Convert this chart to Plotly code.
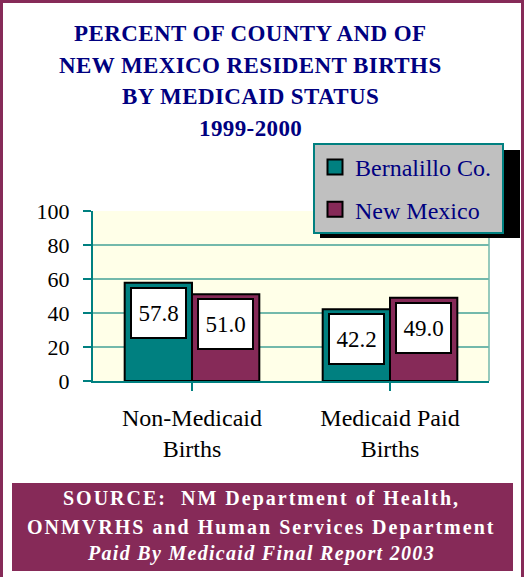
import plotly.graph_objects as go

categories = ["Non-Medicaid<br>Births", "Medicaid Paid<br>Births"]
series_names = ["Bernalillo Co.", "New Mexico"]
bernalillo = [57.8, 42.2]
new_mexico = [51.0, 49.0]
y_ticks = [0, 20, 40, 60, 80, 100]
title_lines = ["PERCENT OF COUNTY AND OF", "NEW MEXICO RESIDENT BIRTHS", "BY MEDICAID STATUS", "1999-2000"]
source_lines = ["SOURCE:  NM Department of Health,", "ONMVRHS and Human Services Department", "<i>Paid By Medicaid Final Report 2003</i>"]

TEAL = "#008080"
MAROON = "#862A58"
GRID = "#73B9AB"
NAVY = "#000080"
FONT = "Liberation Serif, Times New Roman, DejaVu Serif, serif"

W, H = 524, 577
L, R, T, B = 93, 489, 211, 381  # plot area pixel box


def px(x):
    return (x - L) / (R - L)


def py(y):
    return (B - y) / (B - T)


fig = go.Figure()
colors = [TEAL, MAROON]
for name, vals, col in zip(series_names, [bernalillo, new_mexico], colors):
    fig.add_trace(go.Bar(
        x=list(range(len(categories))), y=vals, name=name,
        marker=dict(color=col, line=dict(color="black", width=2)),
        showlegend=False, legendgroup=name,
    ))
    fig.add_trace(go.Scatter(
        x=[None], y=[None], mode="markers", name=name + "\u00a0", legendgroup=name,
        marker=dict(symbol="square", size=15, color=col, line=dict(color="black", width=2)),
    ))

# value label boxes
bargap = 0.32
bw = (1 - bargap) / 2
for si, vals in enumerate([bernalillo, new_mexico]):
    off = -bw / 2 if si == 0 else bw / 2
    for ci, v in enumerate(vals):
        fig.add_annotation(
            x=ci + off, y=v, xref="x", yref="y", text=f"{v:.1f}",
            showarrow=False, yanchor="top", yshift=-4,
            width=51, height=46, bgcolor="white", bordercolor="black",
            borderwidth=2, borderpad=1,
            font=dict(family=FONT, size=23, color="black"),
        )

# title
for i, (line, yy) in enumerate(zip(title_lines, [33, 65, 97, 128])):
    fig.add_annotation(
        x=px(250), y=py(yy), xref="paper", yref="paper",
        text=f'<b><span style="letter-spacing:0.4px">{line}</span></b>',
        showarrow=False, xanchor="center", yanchor="middle",
        font=dict(family=FONT, size=23, color=NAVY),
    )

# legend shadow
fig.add_shape(type="rect", xref="paper", yref="paper",
              x0=px(320), x1=px(520), y0=py(150), y1=py(238),
              fillcolor="black", line=dict(width=0), layer="above")

# right border of plot area
fig.add_shape(type="line", xref="paper", yref="paper", x0=1, x1=1, y0=0, y1=1,
              line=dict(color=GRID, width=1.5), layer="below")

# source box
fig.add_shape(type="rect", xref="paper", yref="paper",
              x0=px(12), x1=px(513), y0=py(483), y1=py(571),
              fillcolor=MAROON, line=dict(width=0), layer="above")
for line, yy, ls in zip(source_lines, [498, 527, 553], [2, 2, 1.3]):
    fig.add_annotation(
        x=px(261), y=py(yy), xref="paper", yref="paper",
        text=f'<b><span style="letter-spacing:{ls}px">{line}</span></b>',
        showarrow=False, xanchor="center", yanchor="middle",
        font=dict(family=FONT, size=20, color="white"),
    )

# outer frame
fig.add_shape(type="rect", xref="paper", yref="paper",
              x0=px(1.5), x1=px(522.5), y0=py(1.5), y1=py(600),
              line=dict(color=MAROON, width=3), fillcolor="rgba(0,0,0,0)", layer="above")

fig.update_layout(
    width=W, height=H,
    margin=dict(l=L, r=W - R, t=T, b=H - B, pad=0),
    paper_bgcolor="white", plot_bgcolor="#FFFFE8",
    barmode="group", bargap=bargap, bargroupgap=0,
    font=dict(family=FONT, size=22, color="black"),
    showlegend=True,
    legend=dict(
        x=px(313), y=py(143), xanchor="left", yanchor="top",
        bgcolor="#C0C0C0", bordercolor=TEAL, borderwidth=2,
        font=dict(family=FONT, size=24, color=NAVY),
        tracegroupgap=8, traceorder="grouped", itemsizing="trace",
    ),
    xaxis=dict(
        tickmode="array", tickvals=list(range(len(categories))), ticktext=categories,
        range=[-0.5, len(categories) - 0.5],
        showline=True, linecolor=TEAL, linewidth=2,
        ticks="outside", tickson="boundaries", ticklen=8, tickcolor=TEAL, tickwidth=2,
        showgrid=False, zeroline=False, ticklabelstandoff=6,
        tickfont=dict(family=FONT, size=24, color="black"),
    ),
    yaxis=dict(
        range=[0, 100], tickvals=y_ticks, showline=True, linecolor=TEAL, linewidth=2,
        ticks="outside", ticklen=8, tickcolor=TEAL, tickwidth=2,
        showgrid=True, gridcolor=GRID, gridwidth=1.5, zeroline=False, ticklabelstandoff=9,
        tickfont=dict(family=FONT, size=22, color="black"),
    ),
)

fig.write_html("out.html", config={"displayModeBar": False},
               post_script="document.body.style.margin='0';")
